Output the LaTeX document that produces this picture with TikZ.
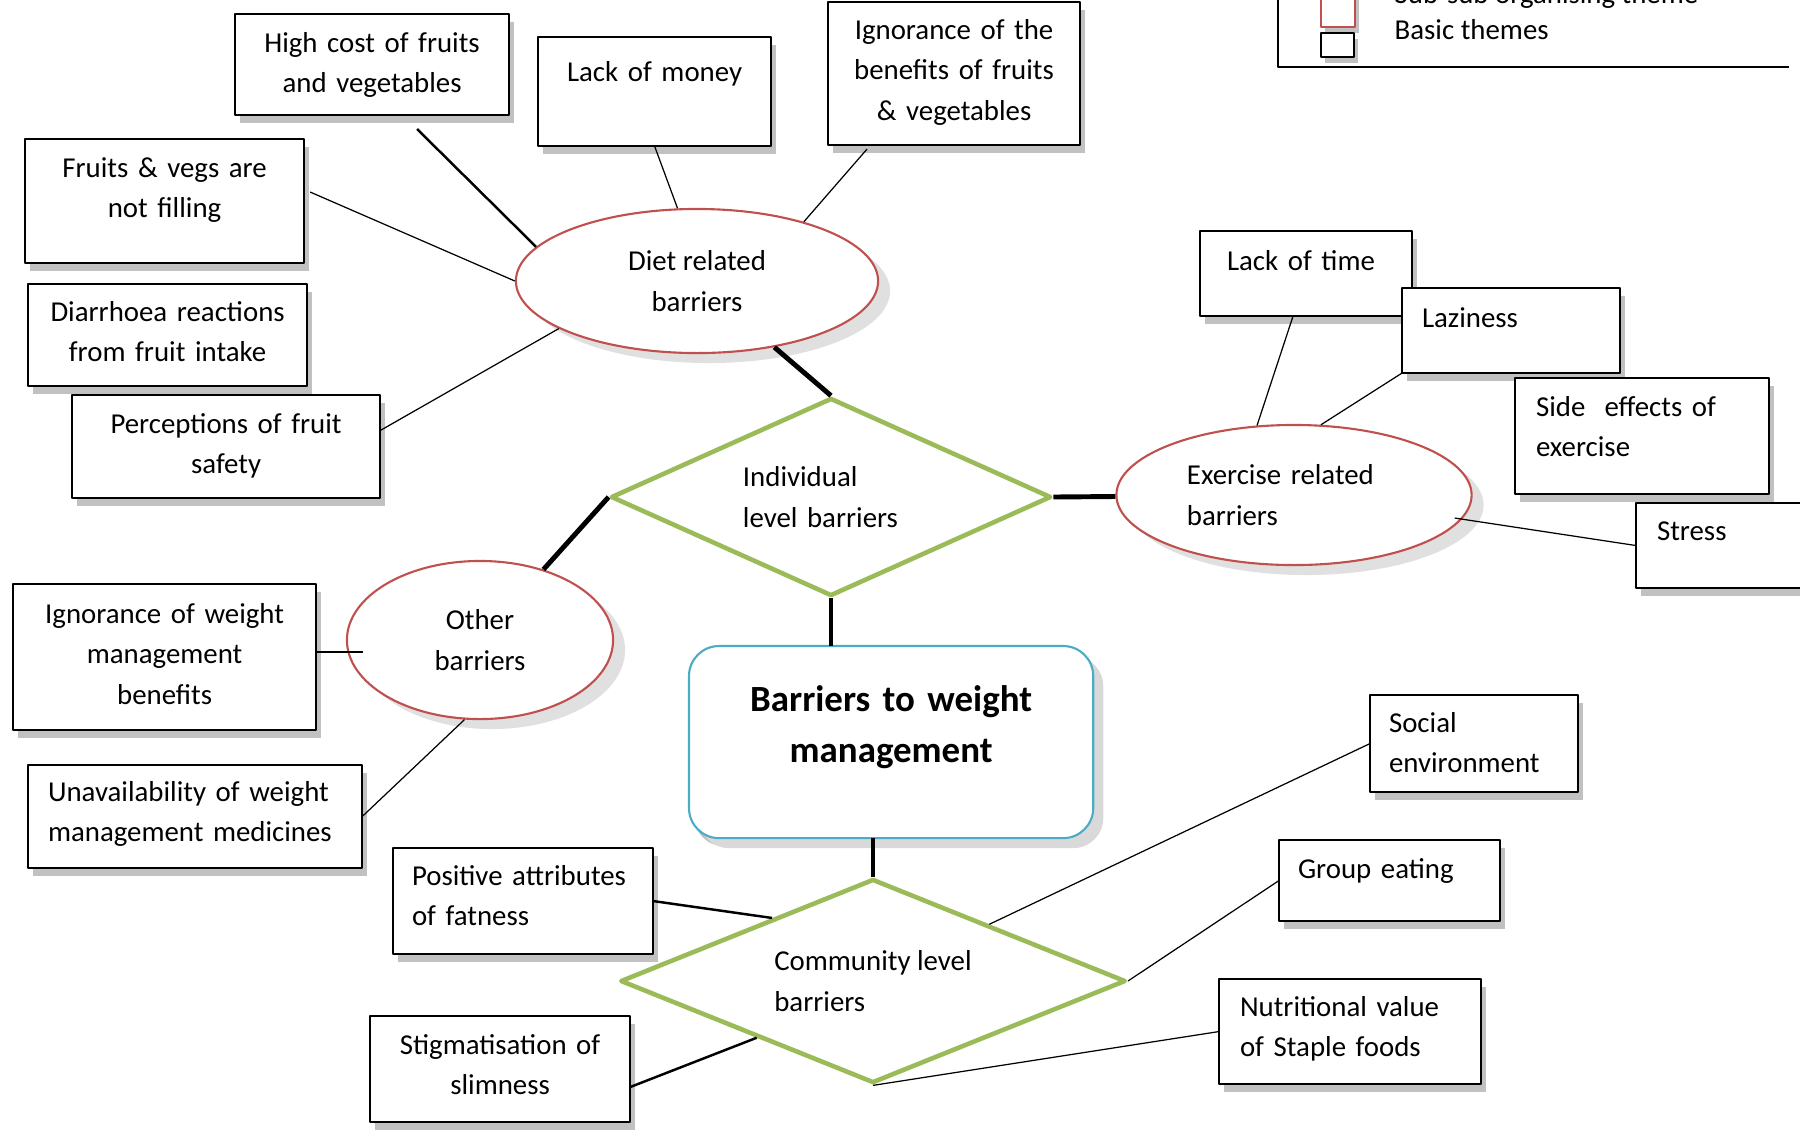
\documentclass[tikz,border=0pt]{standalone}
\usepackage{fontspec}
\setmainfont{Carlito}
\usetikzlibrary{shapes.geometric,shadows}
\definecolor{subred}{RGB}{192,80,77}
\definecolor{lvlgreen}{RGB}{155,187,89}
\definecolor{coreblue}{RGB}{75,172,198}
\begin{document}
\begin{tikzpicture}[x=.01cm,y=-.01cm,line join=round,
  txt/.style={font=\fontsize{8.2pt}{11.6pt}\selectfont},
  basic/.style={txt,draw,line width=.7pt,fill=white,anchor=north west,inner sep=0pt,outer sep=0pt,align=center,text height=.38cm,drop shadow={shadow xshift=.05cm,shadow yshift=-.08cm,fill=black!35,opacity=.7}},
  lft/.style={align=left,inner xsep=#1cm},
  sub/.style={txt,ellipse,draw=subred,line width=.6pt,fill=white,inner sep=0pt,align=center,drop shadow={shadow xshift=.12cm,shadow yshift=-.1cm,fill=black!12,opacity=1}},
  lvl/.style={txt,diamond,aspect=2.3,draw=lvlgreen,line width=1.3pt,fill=white,inner sep=0pt,align=left},
  key/.style={draw,fill=white,anchor=north west,inner sep=0pt,line width=.6pt,drop shadow={shadow xshift=.04cm,shadow yshift=-.06cm,fill=black!35,opacity=.7}},
  link/.style={line width=1.4pt},
  thin/.style={line width=.35pt},
  mid/.style={line width=.7pt}]
\useasboundingbox (0,0) rectangle (1800,1129);
% legend
\draw[line width=.6pt] (1278,-5) |- (1789,67);
\node[key,draw=subred,minimum width=.34cm,minimum height=.36cm] (kred) at (1320,-10) {};
\node[key,minimum width=.33cm,minimum height=.24cm] (kblack) at (1320,32) {};
\node[txt,anchor=base west,inner sep=0pt] (ksub) at (1394,3) {Sub-sub organising theme};
\node[txt,anchor=base west,inner sep=0pt] (kbasic) at (1394,39) {Basic themes};
% global, organising and sub-sub organising themes
\node[basic,draw=coreblue,line width=.6pt,rounded corners=.3cm,text width=4.04cm,text height=.65cm,text depth=1.27cm,font=\fontsize{10.5pt}{14.7pt}\selectfont\bfseries,drop shadow={shadow xshift=.1cm,shadow yshift=-.1cm,fill=black!15,opacity=1}] (core) at (689,646) {Barriers to weight\\management};
\node[lvl,text width=1.76cm,minimum width=4.4cm,minimum height=1.98cm] (ind) at (831,497) {Individual\\level barriers};
\node[lvl,minimum width=5.05cm,minimum height=2.04cm] (com) at (873,981) {Community level\\barriers};
\node[sub,minimum width=3.62cm,minimum height=1.44cm] (diet) at (697,281) {Diet related\\barriers};
\node[sub,align=left,text width=2.14cm,minimum width=3.55cm,minimum height=1.4cm] (exer) at (1294,495) {Exercise related\\barriers};
\node[sub,minimum width=2.66cm,minimum height=1.58cm] (other) at (480,640) {Other\\barriers};
% basic themes
\node[basic,text width=2.74cm,text depth=.63cm] (cost) at (235,14) {High cost of fruits\\and vegetables};
\node[basic,text width=2.33cm,text height=.44cm,text depth=.65cm] (money) at (538,37) {Lack of money};
\node[basic,text width=2.52cm,text height=.37cm,text depth=1.06cm] (ignfv) at (828,2) {Ignorance of the\\benefits of fruits\\\& vegetables};
\node[basic,text width=2.79cm,text depth=.86cm] (filling) at (25,139) {Fruits \& vegs are\\not filling};
\node[basic,text width=2.79cm,text height=.37cm,text depth=.65cm] (diarr) at (28,284) {Diarrhoea reactions\\from fruit intake};
\node[basic,text width=3.08cm,text depth=.65cm] (percep) at (72,395) {Perceptions of fruit\\safety};
\node[basic,lft=.27,text width=1.58cm,text height=.39cm,text depth=.46cm] (time) at (1200,231) {Lack of time};
\node[basic,lft=.2,text width=1.78cm,text height=.39cm,text depth=.46cm] (lazy) at (1402,288) {Laziness};
\node[basic,lft=.21,text width=2.12cm,text depth=.78cm] (side) at (1515,378) {Side~~effects of\\exercise};
\node[basic,lft=.21,text width=1.58cm,text height=.37cm,text depth=.48cm] (stress) at (1636,503) {Stress};
\node[basic,text width=3.03cm,text height=.39cm,text depth=1.07cm] (ignw) at (13,584) {Ignorance of weight\\management\\benefits};
\node[basic,lft=.2,text width=2.94cm,text height=.36cm,text depth=.67cm] (unav) at (28,765) {Unavailability of weight\\management medicines};
\node[basic,lft=.19,text width=2.22cm,text height=.37cm,text depth=.69cm] (posit) at (393,848) {Positive attributes\\of fatness};
\node[basic,text width=2.6cm,text depth=.68cm] (stigma) at (370,1016) {Stigmatisation of\\slimness};
\node[basic,lft=.19,text width=1.7cm,text height=.37cm,text depth=.6cm] (social) at (1370,695) {Social\\environment};
\node[basic,lft=.19,text width=1.83cm,text depth=.43cm] (group) at (1279,840) {Group eating};
\node[basic,lft=.21,text width=2.2cm,text height=.37cm,text depth=.68cm] (nutri) at (1219,979) {Nutritional value\\of Staple foods};
% links between themes
\draw[link] (ind.north) -- (diet);
\draw[link] (ind.west) -- (other);
\draw[link] (ind.east) -- (exer);
\draw[link] (ind.south) -- (ind.south |- core.north);
\draw[link] (com.north) -- (com.north |- core.south);
\draw[mid] ([xshift=.45cm,yshift=-.14cm]cost.south) -- (diet.168);
\draw[thin] (money.south) -- (diet.105);
\draw[thin] ([xshift=-.87cm,yshift=-.04cm]ignfv.south) -- (diet.29);
\draw[thin] ([xshift=.06cm,yshift=.09cm]filling.east) -- (diet.180);
\draw[thin] ([yshift=.16cm]percep.east) -- (diet.199);
\draw[thin] ([xshift=-.13cm]time.south) -- (exer.118);
\draw[thin] (lazy.south west) -- (exer.69);
\draw[thin] (stress.west) -- ([xshift=-.18cm,yshift=-.23cm]exer.east);
\draw[thin] ([yshift=.05cm]ignw.east) -- ([xshift=.47cm,yshift=.05cm]ignw.east);
\draw[thin] (unav.east) -- (other.259);
\draw[mid] (posit.east) -- (com.148);
\draw[mid] ([yshift=-.18cm]stigma.east) -- (com.206);
\draw[thin] (social.west) -- (com.26);
\draw[thin] (group.west) -- (com.east);
\draw[thin] (nutri.west) -- (com.south);
\end{tikzpicture}
\end{document}
